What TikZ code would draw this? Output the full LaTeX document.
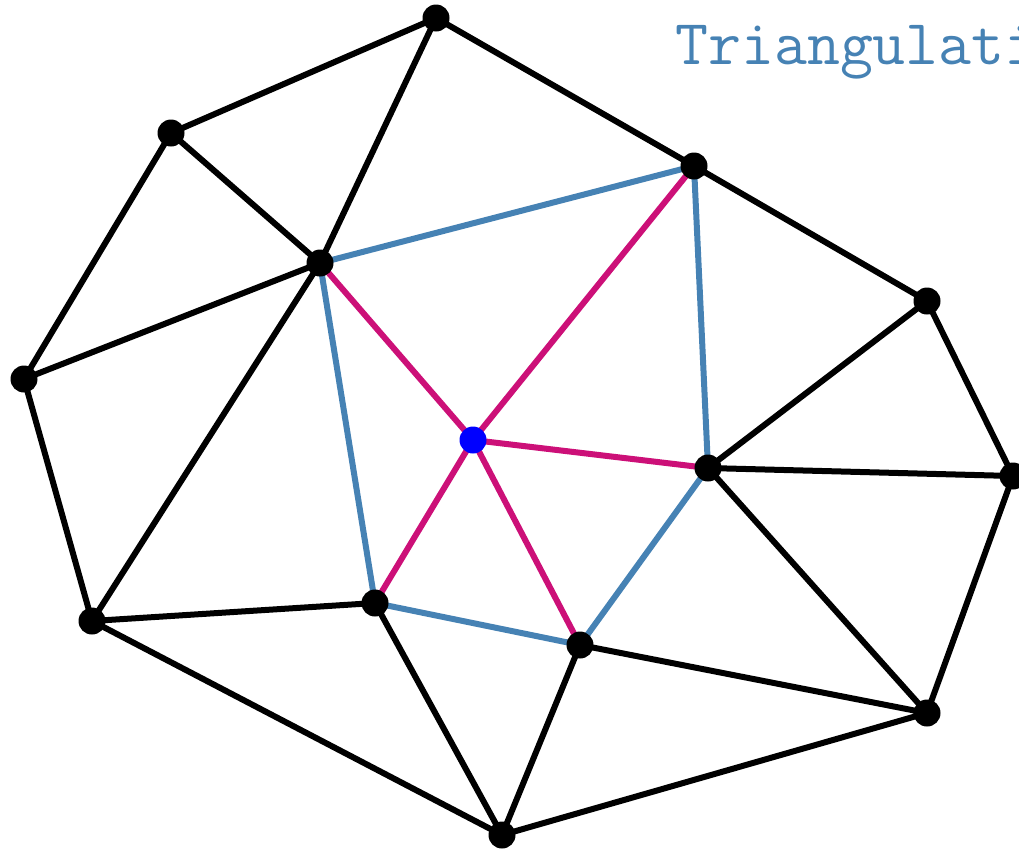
\documentclass[tikz,border=0pt]{standalone}
\definecolor{steel}{RGB}{70,130,180}
\definecolor{pinkedge}{RGB}{204,16,120}
\begin{document}
\begin{tikzpicture}[x=1pt,y=-1pt,
  vert/.style={circle,fill=black,inner sep=0pt,minimum size=27pt},
  center/.style={circle,fill=blue,inner sep=0pt,minimum size=27pt},
  edge/.style={line width=6pt,black},
  hull/.style={line width=6pt,steel},
  spoke/.style={line width=6pt,pinkedge}]
\useasboundingbox (0,0) rectangle (1019,849);
\clip (0,0) rectangle (1019,849);
\coordinate (A) at (436,18);
\coordinate (B) at (171,133);
\coordinate (C) at (694,166);
\coordinate (D) at (320,263);
\coordinate (E) at (927,301);
\coordinate (F) at (24,379);
\coordinate (P) at (473,440);
\coordinate (G) at (708,468);
\coordinate (H) at (1013,476);
\coordinate (I) at (92,621);
\coordinate (J) at (375,603);
\coordinate (K) at (580,645);
\coordinate (L) at (927,713);
\coordinate (M) at (502,835);
\draw[edge] (A)--(B) (A)--(D) (A)--(C) (B)--(D) (B)--(F) (F)--(D) (F)--(I)
  (I)--(D) (I)--(J) (I)--(M) (J)--(M) (M)--(K) (M)--(L) (K)--(L) (L)--(G)
  (L)--(H) (H)--(G) (H)--(E) (E)--(G) (E)--(C);
\draw[hull] (D)--(C) (C)--(G) (G)--(K) (K)--(J) (J)--(D);
\draw[spoke] (P)--(D) (P)--(C) (P)--(G) (P)--(K) (P)--(J);
\foreach \v in {A,B,C,D,E,F,G,H,I,J,K,L,M} \node[vert] (n\v) at (\v) {};
\node[center] (nP) at (P) {};
\node[anchor=base west,inner sep=0pt,text=steel,font=\fontsize{64}{76}\selectfont\ttfamily] (title) at (675,64) {Triangulation};
\end{tikzpicture}
\end{document}
